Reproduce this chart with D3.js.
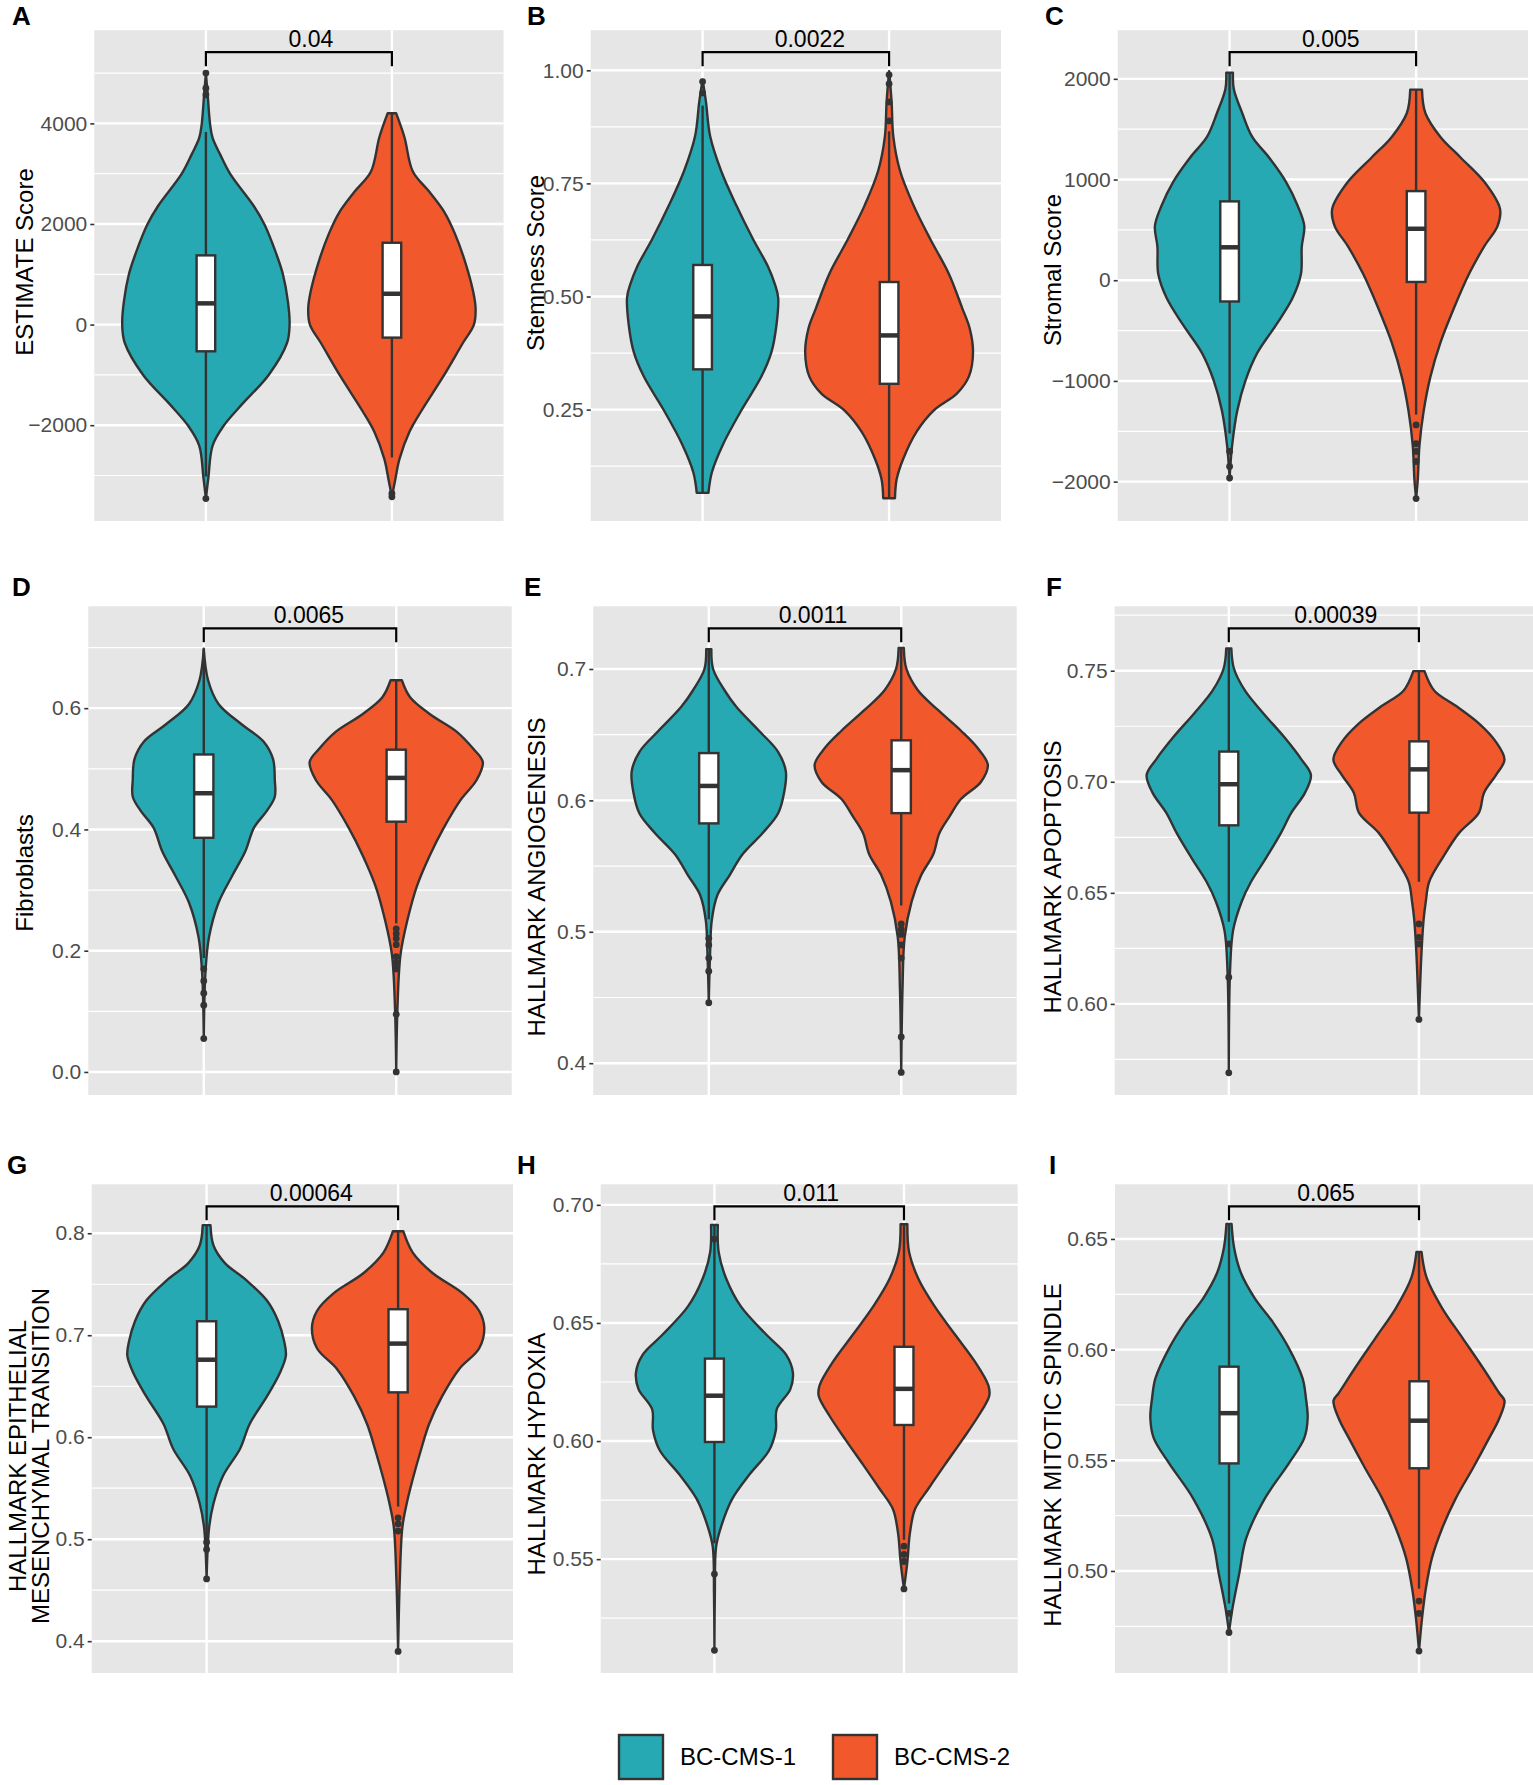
<!DOCTYPE html>
<html>
<head>
<meta charset="utf-8">
<script src="https://cdn.jsdelivr.net/npm/d3@7/dist/d3.min.js"></script>
<style>
  body { margin: 0; background: #fff; }
  svg { display: block; }
</style>
</head>
<body>
<svg id="fig" width="1533" height="1785"></svg>
<script>
// ---- data ----
var groups = ['BC-CMS-1', 'BC-CMS-2'];
var letters = ['A', 'B', 'C', 'D', 'E', 'F', 'G', 'H', 'I'];
var yTitles = [
    ['ESTIMATE Score'], ['Stemness Score'], ['Stromal Score'],
    ['Fibroblasts'], ['HALLMARK ANGIOGENESIS'], ['HALLMARK APOPTOSIS'],
    ['HALLMARK EPITHELIAL', 'MESENCHYMAL TRANSITION'], ['HALLMARK HYPOXIA'], ['HALLMARK MITOTIC SPINDLE']
];
var pValues = ['0.04', '0.0022', '0.005', '0.0065', '0.0011', '0.00039', '0.00064', '0.011', '0.065'];

var yDomains = [
    [-3905, 5853], [0.0038, 1.0886], [-2391, 2483],
    [-0.038, 0.768], [0.3758, 0.7477], [0.559, 0.779],
    [0.3688, 0.848], [0.5018, 0.7087], [0.4539, 0.6747]
];
var majorTicks = [
    [-2000, 0, 2000, 4000], [0.25, 0.50, 0.75, 1.00], [-2000, -1000, 0, 1000, 2000],
    [0.0, 0.2, 0.4, 0.6], [0.4, 0.5, 0.6, 0.7], [0.60, 0.65, 0.70, 0.75],
    [0.4, 0.5, 0.6, 0.7, 0.8], [0.55, 0.60, 0.65, 0.70], [0.50, 0.55, 0.60, 0.65]
];
var minorTicks = [
    [-3000, -1000, 1000, 3000, 5000], [0.125, 0.375, 0.625, 0.875], [-1500, -500, 500, 1500],
    [0.1, 0.3, 0.5, 0.7], [0.45, 0.55, 0.65], [0.575, 0.625, 0.675, 0.725, 0.775],
    [0.45, 0.55, 0.65, 0.75], [0.525, 0.575, 0.625, 0.675], [0.475, 0.525, 0.575, 0.625]
];
var tickDigits = [0, 2, 0, 1, 1, 2, 1, 2, 2];

// violin outlines: [value, relative half width], per group
var shapeA = [
    [[-3459, 0], [-3037, 0.03], [-2404, 0.08], [-2016, 0.21], [-1587, 0.43], [-1001, 0.75], [-361, 0.97], [0, 1.0],
     [456, 0.98], [1001, 0.92], [1410, 0.84], [1988, 0.70], [2363, 0.57], [2996, 0.29], [3384, 0.17], [3712, 0.08],
     [3984, 0.05], [4600, 0.02], [4998, 0]],
    [[-3425, 0], [-3085, 0.04], [-2676, 0.09], [-2132, 0.21], [-1723, 0.35], [-1042, 0.61], [-361, 0.85], [0, 0.98],
     [320, 1.0], [661, 0.97], [1273, 0.87], [1818, 0.75], [2227, 0.63], [2635, 0.45], [3044, 0.25], [3725, 0.15], [4203, 0.05]]
];
var shapeB = [
    [[0.066, 0.07], [0.111, 0.11], [0.172, 0.24], [0.248, 0.46], [0.323, 0.70], [0.377, 0.82], [0.437, 0.88], [0.498, 0.90],
     [0.528, 0.86], [0.566, 0.78], [0.627, 0.60], [0.702, 0.40], [0.778, 0.22], [0.854, 0.09], [0.93, 0.04], [0.979, 0]],
    [[0.054, 0.07], [0.096, 0.09], [0.142, 0.17], [0.202, 0.33], [0.248, 0.53], [0.286, 0.81], [0.323, 0.95], [0.377, 1.0],
     [0.43, 0.96], [0.475, 0.87], [0.551, 0.71], [0.627, 0.49], [0.702, 0.29], [0.778, 0.13], [0.854, 0.05], [0.93, 0.03], [0.998, 0]]
];
var shapeC = [
    [[-1964, 0], [-1641, 0.03], [-1300, 0.09], [-994, 0.19], [-722, 0.33], [-449, 0.55], [-177, 0.75], [61, 0.85],
     [334, 0.86], [538, 0.89], [742, 0.81], [980, 0.67], [1219, 0.47], [1423, 0.27], [1661, 0.15], [1900, 0.05], [2060, 0.04]],
    [[-2168, 0], [-1981, 0.02], [-1641, 0.04], [-1300, 0.09], [-960, 0.17], [-620, 0.29], [-279, 0.45], [61, 0.63],
     [334, 0.81], [538, 0.97], [708, 1.0], [980, 0.81], [1219, 0.53], [1423, 0.29], [1661, 0.11], [1893, 0.07]]
];
var shapeD = [
    [[0.055, 0], [0.166, 0.02], [0.222, 0.06], [0.279, 0.17], [0.324, 0.33], [0.364, 0.48], [0.403, 0.58], [0.431, 0.73],
     [0.454, 0.82], [0.482, 0.82], [0.516, 0.80], [0.545, 0.69], [0.573, 0.44], [0.607, 0.17], [0.646, 0.05], [0.698, 0]],
    [[0.0, 0], [0.109, 0.015], [0.194, 0.05], [0.251, 0.13], [0.307, 0.24], [0.358, 0.39], [0.403, 0.55], [0.448, 0.74],
     [0.482, 0.93], [0.511, 1.0], [0.533, 0.89], [0.561, 0.70], [0.590, 0.39], [0.618, 0.16], [0.646, 0.065]]
];
var shapeE = [
    [[0.446, 0], [0.483, 0.015], [0.509, 0.035], [0.528, 0.10], [0.543, 0.24], [0.559, 0.39], [0.575, 0.62], [0.590, 0.80],
     [0.606, 0.87], [0.622, 0.89], [0.637, 0.80], [0.653, 0.58], [0.671, 0.32], [0.684, 0.18], [0.700, 0.05], [0.715, 0.03]],
    [[0.393, 0], [0.457, 0.015], [0.496, 0.04], [0.523, 0.12], [0.543, 0.23], [0.559, 0.37], [0.575, 0.44], [0.588, 0.56],
     [0.601, 0.69], [0.614, 0.92], [0.627, 1.0], [0.640, 0.88], [0.653, 0.69], [0.669, 0.42], [0.684, 0.19], [0.700, 0.06], [0.716, 0.03]]
];
var shapeF = [
    [[0.569, 0], [0.615, 0.015], [0.633, 0.05], [0.646, 0.15], [0.655, 0.26], [0.666, 0.44], [0.677, 0.61], [0.686, 0.73],
     [0.695, 0.89], [0.703, 0.96], [0.710, 0.85], [0.720, 0.65], [0.731, 0.40], [0.741, 0.19], [0.751, 0.06], [0.760, 0.03]],
    [[0.593, 0], [0.623, 0.03], [0.638, 0.055], [0.646, 0.08], [0.655, 0.12], [0.666, 0.28], [0.677, 0.47], [0.686, 0.70],
     [0.695, 0.76], [0.703, 0.90], [0.710, 1.0], [0.718, 0.90], [0.726, 0.71], [0.734, 0.44], [0.741, 0.18], [0.7498, 0.065]]
];
var shapeG = [
    [[0.461, 0], [0.512, 0.03], [0.535, 0.08], [0.562, 0.19], [0.589, 0.39], [0.613, 0.50], [0.640, 0.70], [0.663, 0.85],
     [0.680, 0.92], [0.694, 0.90], [0.714, 0.83], [0.734, 0.70], [0.754, 0.46], [0.771, 0.21], [0.788, 0.08], [0.808, 0.045]],
    [[0.390, 0], [0.461, 0.02], [0.512, 0.05], [0.535, 0.10], [0.559, 0.17], [0.586, 0.26], [0.613, 0.36], [0.640, 0.51],
     [0.667, 0.71], [0.687, 0.94], [0.707, 1.0], [0.724, 0.94], [0.741, 0.75], [0.761, 0.40], [0.781, 0.17], [0.802, 0.06]]
];
var shapeH = [
    [[0.5114, 0], [0.535, 0.005], [0.5553, 0.02], [0.564, 0.08], [0.5756, 0.21], [0.5858, 0.41], [0.596, 0.64], [0.6046, 0.72],
     [0.6134, 0.73], [0.622, 0.89], [0.629, 0.92], [0.6366, 0.84], [0.645, 0.61], [0.657, 0.31], [0.6686, 0.14], [0.680, 0.05], [0.6915, 0.04]],
    [[0.5374, 0], [0.549, 0.04], [0.5611, 0.07], [0.5712, 0.13], [0.580, 0.29], [0.590, 0.48], [0.6003, 0.68], [0.6105, 0.87],
     [0.6192, 1.0], [0.6235, 0.99], [0.6337, 0.83], [0.645, 0.60], [0.657, 0.36], [0.6686, 0.17], [0.680, 0.06], [0.6918, 0.04]]
];
var shapeI = [
    [[0.4722, 0], [0.483, 0.04], [0.4989, 0.12], [0.5147, 0.20], [0.5328, 0.42], [0.5486, 0.70], [0.560, 0.88], [0.569, 0.92],
     [0.578, 0.90], [0.5871, 0.86], [0.6007, 0.70], [0.612, 0.52], [0.6233, 0.30], [0.6346, 0.14], [0.6459, 0.06], [0.6568, 0.03]],
    [[0.4638, 0], [0.4785, 0.035], [0.4921, 0.08], [0.5057, 0.15], [0.5192, 0.27], [0.5328, 0.43], [0.5464, 0.63], [0.560, 0.82],
     [0.569, 0.94], [0.5769, 1.0], [0.5803, 0.94], [0.5916, 0.75], [0.6052, 0.51], [0.6188, 0.27], [0.6324, 0.09], [0.6441, 0.03]]
];
var shapes = [shapeA, shapeB, shapeC, shapeD, shapeE, shapeF, shapeG, shapeH, shapeI];

// box plots: [lower whisker, q1, median, q3, upper whisker]
var boxStats = [
    [[-3020, -531, 422, 1376, 3830], [-2642, -259, 613, 1627, 4203]],
    [[0.066, 0.339, 0.456, 0.5697, 0.922], [0.054, 0.307, 0.414, 0.532, 0.865]],
    [[-1522, -211, 327, 783, 2060], [-1334, -17, 511, 885, 1893]],
    [[0.188, 0.3862, 0.4597, 0.5236, 0.698], [0.245, 0.4128, 0.485, 0.5315, 0.646]],
    [[0.5095, 0.5825, 0.611, 0.636, 0.715], [0.52, 0.5903, 0.623, 0.6457, 0.716]],
    [[0.637, 0.6804, 0.6989, 0.7136, 0.760], [0.655, 0.6861, 0.7056, 0.7182, 0.7498]],
    [[0.498, 0.630, 0.676, 0.7137, 0.808], [0.532, 0.644, 0.6918, 0.7255, 0.802]],
    [[0.5567, 0.5996, 0.6192, 0.6349, 0.6915], [0.5582, 0.6068, 0.6221, 0.6399, 0.6918]],
    [[0.4853, 0.5486, 0.5713, 0.5923, 0.6568], [0.492, 0.5464, 0.5679, 0.5857, 0.6441]]
];
var outliers = [
    [[4570, 4700, 5000, -3460], [-3357, -3425]],
    [[0.95, 0.975], [0.888, 0.93, 0.97, 0.99]],
    [[-1700, -1850, -1964], [-1437, -1624, -1700, -1800, -2168]],
    [[0.17, 0.15, 0.13, 0.11, 0.055], [0.236, 0.228, 0.22, 0.21, 0.19, 0.18, 0.17, 0.095, 0.0]],
    [[0.495, 0.49, 0.48, 0.47, 0.446], [0.506, 0.502, 0.498, 0.49, 0.48, 0.42, 0.393]],
    [[0.627, 0.612, 0.569], [0.636, 0.630, 0.627, 0.593]],
    [[0.497, 0.49, 0.461], [0.521, 0.515, 0.508, 0.39]],
    [[0.6855, 0.5437, 0.5114], [0.5555, 0.552, 0.549, 0.5374]],
    [[0.4808, 0.4722], [0.4864, 0.4808, 0.4638]]
];

// ---- layout (pixels) ----
var panelLeft = [94.3, 590.7, 1117.7, 88.3, 593.3, 1114.7, 91.7, 600.7, 1115];
var panelRight = [503.5, 1001, 1528, 511.7, 1016.7, 1533, 513, 1017.7, 1533];
var rowTop = [30.2, 606.3, 1184.3],
    rowBottom = [521, 1095, 1673];
var titleX = [[24], [535], [1052], [24], [536], [1052], [17, 40], [536.5], [1052]];
var titleY = [262, 263, 270, 873, 877, 877, 1456, 1454, 1455];
var letterX = [12, 527, 1045, 12, 524, 1046, 7, 517, 1049];
var letterY = [25, 25, 25, 596, 596, 596, 1174, 1174, 1174];
var pShift = [12, 14, 8, 9, 8, 12, 9, 2, 2];

var colors = ['#27A9B3', '#F1582C'],
    ink = '#333333',
    font = '"Liberation Sans", Arial, Helvetica, sans-serif',
    halfWidth = 0.45,
    boxHalf = 0.05;

var svg = d3.select('#fig').style('font-family', font);

function drawPanel(i){
    var row = Math.floor(i / 3),
        top = rowTop[row],
        x = d3.scaleLinear().domain([0.4, 2.6]).range([panelLeft[i], panelRight[i]]),
        y = d3.scaleLinear().domain(yDomains[i]).range([rowBottom[row], top]),
        g = svg.append('g').attr('class', 'panel');

    g.append('rect')
        .attr('x', x.range()[0]).attr('y', top)
        .attr('width', x.range()[1] - x.range()[0])
        .attr('height', rowBottom[row] - top)
        .attr('fill', '#E6E6E6');

    g.selectAll('line.minor').data(minorTicks[i]).enter()
        .append('line').attr('class', 'minor')
        .attr('x1', x.range()[0]).attr('x2', x.range()[1])
        .attr('y1', y).attr('y2', y)
        .attr('stroke', '#fff').attr('stroke-width', 1.2);

    g.selectAll('line.major').data(majorTicks[i]).enter()
        .append('line').attr('class', 'major')
        .attr('x1', x.range()[0]).attr('x2', x.range()[1])
        .attr('y1', y).attr('y2', y)
        .attr('stroke', '#fff').attr('stroke-width', 2.4);

    g.selectAll('line.vgrid').data([1, 2]).enter()
        .append('line').attr('class', 'vgrid')
        .attr('x1', x).attr('x2', x)
        .attr('y1', top).attr('y2', rowBottom[row])
        .attr('stroke', '#fff').attr('stroke-width', 2.4);

    var axis = d3.axisLeft(y)
        .tickValues(majorTicks[i])
        .tickSize(4)
        .tickPadding(3)
        .tickFormat(d3.format(tickDigits[i] ? '.' + tickDigits[i] + 'f' : 'd'));

    var ax = g.append('g')
        .attr('transform', 'translate(' + x.range()[0] + ',0)')
        .call(axis);
    ax.select('.domain').remove();
    ax.selectAll('.tick line').attr('stroke', ink).attr('stroke-width', 1.6);
    ax.selectAll('.tick text')
        .attr('fill', '#4D4D4D')
        .style('font-size', '21px')
        .style('font-family', font);

    // violins, whiskers, boxes
    var area = d3.area()
        .curve(d3.curveCatmullRom.alpha(0.5))
        .y(function(d){ return y(d[0]); });

    shapes[i].forEach(function(pts, k){
        var c = k + 1,
            s = boxStats[i][k];

        area.x0(function(d){ return x(c - d[1] * halfWidth); })
            .x1(function(d){ return x(c + d[1] * halfWidth); });

        g.append('path')
            .datum(pts)
            .attr('d', area)
            .attr('fill', colors[k])
            .attr('stroke', ink)
            .attr('stroke-width', 2.4)
            .attr('stroke-linejoin', 'round');

        g.selectAll('line.whisker' + k).data([[s[0], s[1]], [s[3], s[4]]]).enter()
            .append('line').attr('class', 'whisker' + k)
            .attr('x1', x(c)).attr('x2', x(c))
            .attr('y1', function(d){ return y(d[0]); })
            .attr('y2', function(d){ return y(d[1]); })
            .attr('stroke', ink).attr('stroke-width', 2.4);

        g.append('rect')
            .attr('x', x(c - boxHalf))
            .attr('width', x(c + boxHalf) - x(c - boxHalf))
            .attr('y', y(s[3]))
            .attr('height', y(s[1]) - y(s[3]))
            .attr('fill', '#fff')
            .attr('stroke', ink).attr('stroke-width', 2.4);

        g.append('line')
            .attr('x1', x(c - boxHalf)).attr('x2', x(c + boxHalf))
            .attr('y1', y(s[2])).attr('y2', y(s[2]))
            .attr('stroke', ink).attr('stroke-width', 4.5);

        g.selectAll('circle.out' + k).data(outliers[i][k]).enter()
            .append('circle').attr('class', 'out' + k)
            .attr('cx', x(c)).attr('cy', y)
            .attr('r', 3.4)
            .attr('fill', ink);
    });

    // significance bracket
    g.append('path')
        .attr('d', 'M' + x(1) + ',' + (top + 36) + 'V' + (top + 22) + 'H' + x(2) + 'V' + (top + 36))
        .attr('fill', 'none')
        .attr('stroke', '#000')
        .attr('stroke-width', 2.2);

    g.append('text')
        .attr('x', x(1.5) + pShift[i])
        .attr('y', top + 17)
        .attr('text-anchor', 'middle')
        .style('font-size', '23px')
        .attr('fill', '#000')
        .text(pValues[i]);

    // axis title (rotated)
    yTitles[i].forEach(function(line, j){
        g.append('text')
            .attr('transform', 'translate(' + titleX[i][j] + ',' + titleY[i] + ') rotate(-90)')
            .attr('text-anchor', 'middle')
            .attr('dominant-baseline', 'central')
            .style('font-size', '24px')
            .attr('fill', '#000')
            .text(line);
    });

    // panel letter
    svg.append('text')
        .attr('x', letterX[i]).attr('y', letterY[i])
        .style('font-size', '26px')
        .style('font-weight', 'bold')
        .attr('fill', '#000')
        .text(letters[i]);
}

shapes.forEach(function(d, i){ drawPanel(i); });

// legend
var legendX = [619, 833],
    legend = svg.append('g').attr('class', 'legend');

legend.selectAll('rect').data(groups).enter()
    .append('rect')
    .attr('x', function(d, k){ return legendX[k]; })
    .attr('y', 1735)
    .attr('width', 44).attr('height', 44)
    .attr('fill', function(d, k){ return colors[k]; })
    .attr('stroke', ink).attr('stroke-width', 2.4);

legend.selectAll('text').data(groups).enter()
    .append('text')
    .attr('x', function(d, k){ return legendX[k] + 61; })
    .attr('y', 1765)
    .style('font-size', '24px')
    .attr('fill', '#000')
    .text(function(d){ return d; });
</script>
</body>
</html>
